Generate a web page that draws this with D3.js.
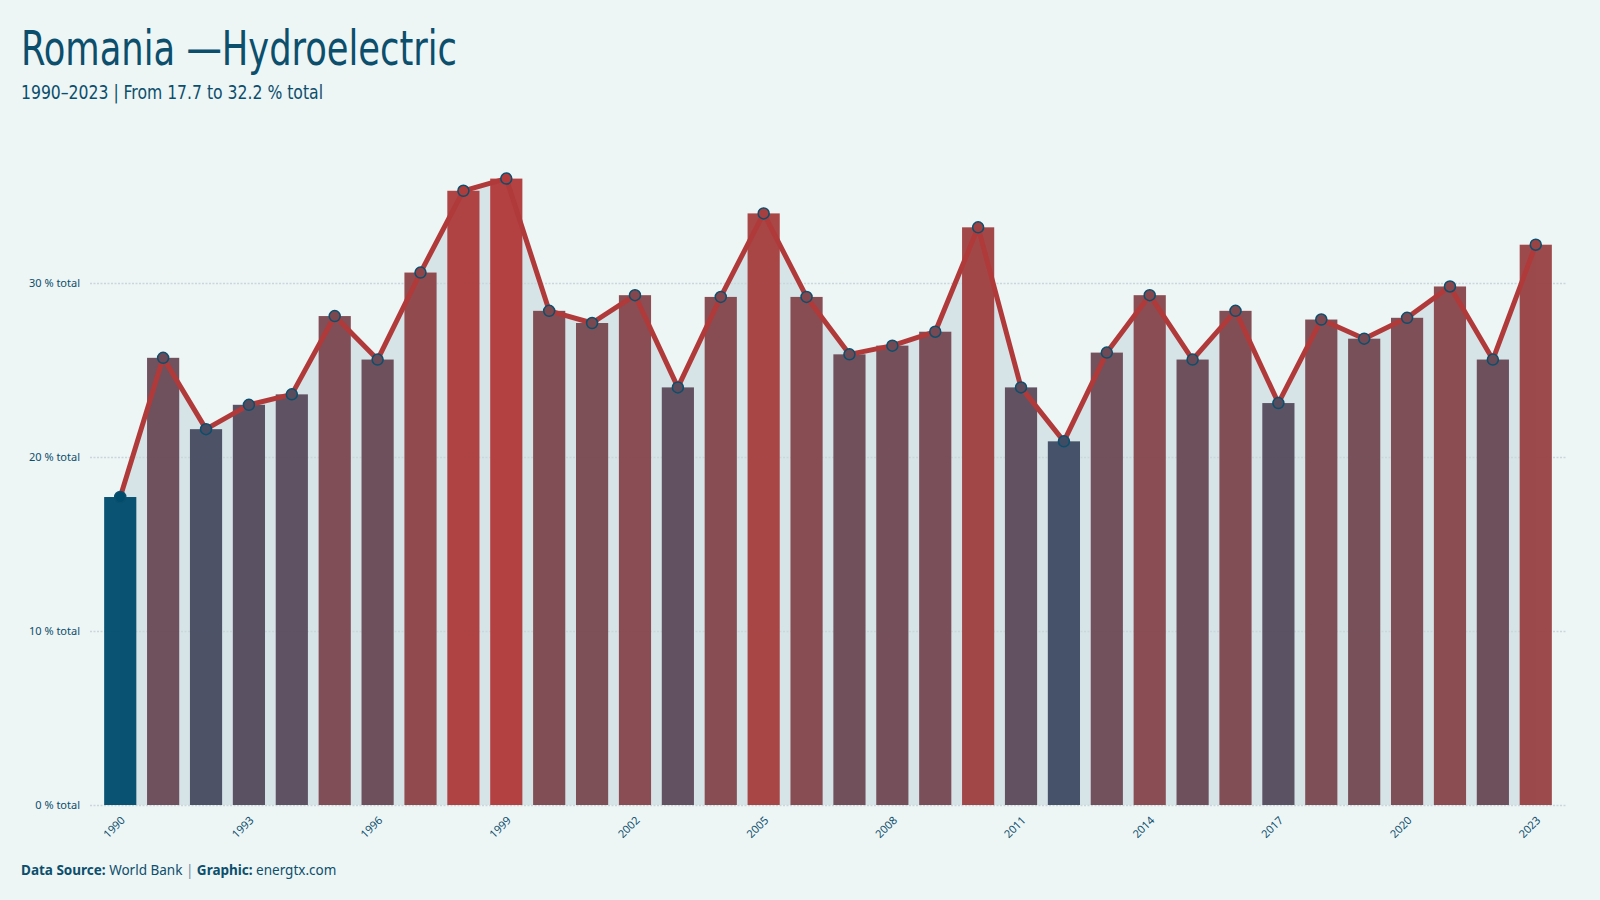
<!DOCTYPE html>
<html>
<head>
<meta charset="utf-8">
<script src="https://cdn.jsdelivr.net/npm/d3@7"></script>
<style>
  body { margin: 0; background: #eef5f5; }
  svg { display: block; }
</style>
</head>
<body>
<div id="svg-container"></div>
<script>
// data
const years = d3.range(1990, 2024)
const values = [17.7, 25.7, 21.6, 23.0, 23.6, 28.1, 25.6, 30.6, 35.3, 36.0,
  28.4, 27.7, 29.3, 24.0, 29.2, 34.0, 29.2, 25.9, 26.4, 27.2,
  33.2, 24.0, 20.9, 26.0, 29.3, 25.6, 28.4, 23.1, 27.9, 26.8,
  28.0, 29.8, 25.6, 32.2]
const yTicks = [0, 10, 20, 30]
const xTickYears = [1990, 1993, 1996, 1999, 2002, 2005, 2008, 2011, 2014, 2017, 2020, 2023]

const title = 'Romania \u2014Hydroelectric'
const subtitle = '1990\u20132023 | From 17.7 to 32.2 % total'

const data = years.map((y, i) => ({ year: y, value: values[i] }))

const width = 1600
const height = 900
const ink = '#0b4f6c'
const lineRed = '#b03a3a'
const narrow = '"Liberation Sans Narrow", "DejaVu Sans Condensed", "Noto Sans", sans-serif'
const body = '"Noto Sans", "Open Sans", sans-serif'

const svg = d3.select('#svg-container')
  .append('svg').attr('width', width).attr('height', height)

svg.append('rect').attr('width', width).attr('height', height).attr('fill', '#eef5f5')

//schalen
const xScale = d3.scaleBand()
  .domain(years)
  .range([90, 1566])
  .paddingInner(0.25)
  .paddingOuter(0.33)
const yScale = d3.scaleLinear()
  .domain([0, 40])
  .range([805, 109])
const color = d3.scaleLinear()
  .domain([d3.min(values), d3.max(values)])
  .range(['#004c6d', '#b23a3a'])
  .interpolate(d3.interpolateLab)

const cx = d => xScale(d.year) + xScale.bandwidth() / 2

//area onder de lijn
const area = d3.area()
  .x(cx)
  .y0(yScale(0))
  .y1(d => yScale(d.value))
svg.append('path')
  .datum(data)
  .attr('d', area)
  .attr('fill', '#d6e3e7')

//gridlijnen + y labels
const yAxis = d3.axisLeft(yScale)
  .tickValues(yTicks)
  .tickSize(-(1566 - 90))
  .tickPadding(10)
  .tickFormat(d => d + ' % total')
const yAxisG = svg.append('g')
  .attr('transform', 'translate(90,0)')
  .call(yAxis)
yAxisG.select('.domain').remove()
yAxisG.selectAll('.tick line')
  .attr('stroke', '#c9d7dc')
  .attr('stroke-width', 1.5)
  .attr('stroke-dasharray', '2,1.5')
yAxisG.selectAll('.tick text')
  .attr('fill', ink)
  .attr('x', -10)
  .style('font-family', body)
  .style('font-size', '11px')

//bars
svg.append('g').selectAll('rect')
  .data(data)
  .enter().append('rect')
  .attr('x', d => xScale(d.year))
  .attr('y', d => yScale(d.value))
  .attr('width', xScale.bandwidth())
  .attr('height', d => yScale(0) - yScale(d.value))
  .attr('fill', d => color(d.value))
  .attr('fill-opacity', 0.96)

//lijn
const line = d3.line()
  .x(cx)
  .y(d => yScale(d.value))
svg.append('path')
  .datum(data)
  .attr('d', line)
  .attr('fill', 'none')
  .attr('stroke', lineRed)
  .attr('stroke-width', 5)
  .attr('stroke-linejoin', 'round')

svg.append('g').selectAll('circle')
  .data(data)
  .enter().append('circle')
  .attr('cx', cx)
  .attr('cy', d => yScale(d.value))
  .attr('r', 5.5)
  .attr('fill', d => color(d.value))
  .attr('stroke', ink)
  .attr('stroke-width', 1.5)

//x labels
const xAxis = d3.axisBottom(xScale)
  .tickValues(xTickYears)
  .tickSize(0)
  .tickPadding(0)
const xAxisG = svg.append('g')
  .attr('transform', 'translate(0,' + yScale(0) + ')')
  .call(xAxis)
xAxisG.select('.domain').remove()
xAxisG.selectAll('.tick text')
  .attr('fill', ink)
  .style('font-family', body)
  .style('font-size', '11px')
  .attr('text-anchor', 'end')
  .attr('y', 0)
  .attr('dy', 0)
  .attr('transform', 'translate(5.5,16) rotate(-45)')

//titels (smal font nagebootst met textLength)
svg.append('text')
  .attr('x', 21)
  .attr('y', 65)
  .attr('fill', ink)
  .attr('textLength', 436)
  .attr('lengthAdjust', 'spacingAndGlyphs')
  .style('font-family', narrow)
  .style('font-size', '48px')
  .text(title)
svg.append('text')
  .attr('x', 21)
  .attr('y', 99)
  .attr('fill', ink)
  .attr('textLength', 302)
  .attr('lengthAdjust', 'spacingAndGlyphs')
  .style('font-family', narrow)
  .style('font-size', '20px')
  .text(subtitle)

//bron
const foot = svg.append('text')
  .attr('x', 21)
  .attr('y', 875)
  .attr('fill', ink)
  .style('font-family', body)
  .style('font-size', '13.5px')
foot.append('tspan').attr('font-weight', 'bold').text('Data Source: ')
foot.append('tspan').text('World Bank ')
foot.append('tspan').attr('fill', '#6f8fa2').text('| ')
foot.append('tspan').attr('font-weight', 'bold').text('Graphic: ')
foot.append('tspan').text('energtx.com')
</script>
</body>
</html>
